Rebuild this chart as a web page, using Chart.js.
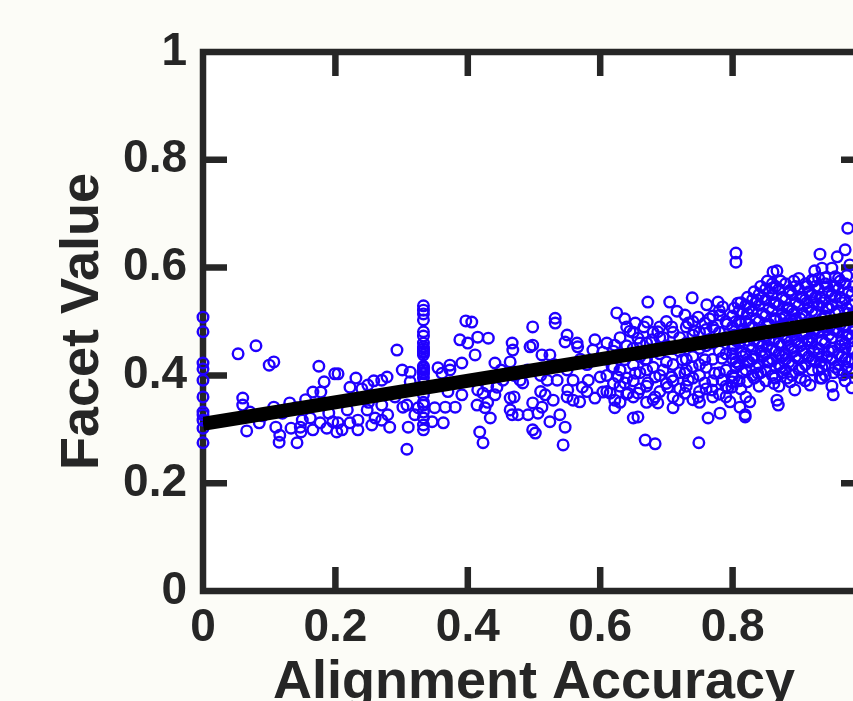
<!DOCTYPE html>
<html>
<head>
<meta charset="utf-8">
<script src="https://cdn.jsdelivr.net/npm/chart.js@4"></script>
<style>
  html, body { margin: 0; padding: 0; background: #fcfcf7; }
  #wrap { width: 853px; height: 701px; overflow: hidden; }
  canvas { display: block; }
</style>
</head>
<body>
<div id="wrap"><canvas id="scatterChart" width="900" height="730"></canvas></div>
<script>
// axis ticks
const xTicks = [0, 0.2, 0.4, 0.6, 0.8, 1];
const yTicks = [0, 0.2, 0.4, 0.6, 0.8, 1];

// fitted line, [accuracy, facet value] at the two ends
const fitLine = [[0, 0.31], [1, 0.51]];

// columns of samples sharing one accuracy value
const atZero = [0.508, 0.481, 0.423, 0.412, 0.391, 0.360, 0.332, 0.327, 0.317, 0.302, 0.275];
const atThird = [0.529, 0.521, 0.514, 0.503, 0.481, 0.473, 0.460, 0.453, 0.449, 0.445, 0.442, 0.438,
  0.417, 0.414, 0.410, 0.406, 0.403, 0.395, 0.385, 0.377, 0.364, 0.350, 0.345, 0.332, 0.321, 0.308, 0.299];

// scattered samples, [accuracy, facet value]
const lowPts = [
  [0.053,0.440],[0.080,0.455],[0.100,0.419],[0.107,0.425],[0.175,0.417],[0.183,0.388],[0.199,0.403],
  [0.060,0.358],[0.060,0.345],[0.071,0.332],[0.066,0.297],[0.085,0.312],[0.107,0.341],[0.110,0.304],
  [0.116,0.289],[0.115,0.276],[0.131,0.349],[0.133,0.302],[0.142,0.275],[0.147,0.304],[0.148,0.295],
  [0.166,0.369],[0.178,0.369],[0.166,0.299],[0.177,0.312],[0.187,0.302],[0.196,0.314],[0.202,0.295],
  [0.162,0.321],[0.150,0.317],[0.120,0.330],[0.140,0.340],[0.170,0.345],[0.190,0.330],[0.090,0.325],
  [0.155,0.355],[0.204,0.403],[0.231,0.395],[0.222,0.378],[0.240,0.375],[0.249,0.382],[0.258,0.390],
  [0.270,0.391],[0.278,0.397],[0.293,0.447],[0.301,0.410],[0.313,0.406],[0.313,0.388],[0.355,0.414],
  [0.361,0.404],[0.373,0.419],[0.373,0.410],[0.388,0.466],[0.391,0.423],[0.204,0.312],[0.210,0.299],
  [0.218,0.336],[0.222,0.312],[0.234,0.317],[0.234,0.299],[0.248,0.336],[0.255,0.308],[0.260,0.321],
  [0.270,0.317],[0.279,0.327],[0.282,0.304],[0.302,0.341],[0.308,0.345],[0.310,0.304],[0.308,0.263],
  [0.320,0.327],[0.325,0.340],[0.346,0.314],[0.350,0.340],[0.363,0.312],[0.366,0.341],[0.381,0.341],
  [0.391,0.364],[0.250,0.350],[0.290,0.360],[0.370,0.370],[0.350,0.380],[0.270,0.345]
];
const midPts = [
  [0.397,0.501],[0.400,0.460],[0.406,0.499],[0.415,0.471],[0.431,0.469],[0.411,0.438],[0.441,0.423],
  [0.464,0.425],[0.467,0.460],[0.468,0.447],[0.498,0.490],[0.494,0.453],[0.498,0.456],[0.512,0.438],
  [0.524,0.438],[0.532,0.506],[0.532,0.497],[0.550,0.475],[0.547,0.462],[0.565,0.460],[0.566,0.453],
  [0.589,0.447],[0.592,0.466],[0.604,0.443],[0.415,0.373],[0.423,0.367],[0.414,0.345],[0.426,0.340],
  [0.434,0.321],[0.418,0.295],[0.423,0.275],[0.441,0.364],[0.444,0.378],[0.464,0.358],[0.464,0.336],
  [0.467,0.327],[0.476,0.327],[0.483,0.386],[0.491,0.327],[0.498,0.349],[0.498,0.299],[0.502,0.293],
  [0.506,0.330],[0.512,0.341],[0.517,0.364],[0.520,0.391],[0.524,0.314],[0.529,0.354],[0.539,0.327],
  [0.547,0.304],[0.544,0.271],[0.551,0.373],[0.559,0.354],[0.569,0.351],[0.573,0.378],[0.582,0.391],
  [0.592,0.358],[0.600,0.397],[0.604,0.369],[0.479,0.391],[0.453,0.391],[0.535,0.391],[0.559,0.391],
  [0.430,0.350],[0.430,0.380],[0.470,0.360],[0.470,0.400],[0.510,0.370],[0.510,0.400],[0.550,0.360],
  [0.550,0.410],[0.580,0.370],[0.580,0.420],[0.450,0.410],[0.490,0.410],[0.530,0.420],[0.570,0.430]
];
const upperPts = [
  [0.805,0.627],[0.805,0.610],[0.672,0.536],[0.705,0.536],[0.739,0.544],[0.625,0.516],[0.637,0.505],
  [0.653,0.497],[0.671,0.499],[0.666,0.490],[0.716,0.519],[0.728,0.512],[0.761,0.531],[0.778,0.536],
  [0.785,0.527],[0.781,0.512],[0.748,0.508],[0.687,0.481],[0.708,0.490],[0.733,0.497],[0.758,0.497],
  [0.773,0.484],[0.622,0.456],[0.657,0.469],[0.678,0.466],[0.618,0.416],[0.627,0.397],[0.615,0.367],
  [0.622,0.354],[0.622,0.340],[0.637,0.386],[0.642,0.367],[0.650,0.321],[0.657,0.323],[0.657,0.367],
  [0.668,0.280],[0.683,0.273],[0.672,0.386],[0.683,0.360],[0.687,0.349],[0.695,0.410],[0.702,0.378],
  [0.708,0.397],[0.718,0.354],[0.728,0.367],[0.733,0.391],[0.739,0.416],[0.748,0.360],[0.749,0.275],
  [0.758,0.386],[0.763,0.321],[0.769,0.373],[0.781,0.330],[0.784,0.391],[0.796,0.351],[0.799,0.378],
  [0.724,0.429],[0.668,0.429],[0.637,0.429],[0.758,0.429],[0.784,0.432],[0.653,0.404],[0.683,0.397],
  [0.728,0.404],[0.773,0.404],[0.645,0.482],[0.695,0.470],[0.742,0.483],[0.765,0.505],[0.792,0.495]
];
const topPts = [
  [0.974,0.673],[0.932,0.625],[0.861,0.592],[0.867,0.594],[0.924,0.594],[0.935,0.599],[0.958,0.620],
  [0.970,0.633],[0.860,0.562],[0.887,0.558],[0.837,0.540],[0.808,0.534],[0.950,0.599],[0.955,0.583],
  [0.977,0.605],[0.920,0.577],[0.940,0.581],[0.811,0.341],[0.819,0.327],[0.819,0.323],[0.826,0.351],
  [0.867,0.354],[0.869,0.345],[0.822,0.388],[0.838,0.404],[0.864,0.395],[0.887,0.388],[0.894,0.373],
  [0.917,0.382],[0.935,0.395],[0.952,0.364],[0.967,0.401],[0.980,0.377],[0.793,0.377],[0.799,0.388]
];

// crowded stretches: [accuracy, facet values]
const midColumns = [
  [0.61,[0.37,0.40,0.43,0.46]], [0.63,[0.38,0.41,0.44,0.47,0.35]], [0.65,[0.36,0.39,0.42,0.45,0.48]],
  [0.67,[0.38,0.41,0.43,0.46,0.35]], [0.69,[0.37,0.40,0.44,0.47,0.49]], [0.71,[0.36,0.39,0.42,0.45,0.48,0.34]],
  [0.73,[0.38,0.41,0.43,0.46,0.49]], [0.75,[0.37,0.40,0.42,0.45,0.48,0.35]], [0.77,[0.36,0.39,0.43,0.46,0.49,0.51]],
  [0.79,[0.38,0.41,0.44,0.47,0.50,0.36]],
  [0.62,[0.385,0.415,0.445]], [0.64,[0.365,0.395,0.455,0.49]], [0.66,[0.375,0.405,0.435,0.46]],
  [0.68,[0.355,0.415,0.445,0.48]], [0.70,[0.385,0.425,0.455,0.50]], [0.72,[0.375,0.405,0.445,0.47]],
  [0.74,[0.355,0.395,0.435,0.475,0.50]], [0.76,[0.375,0.415,0.455,0.485]], [0.78,[0.365,0.405,0.445,0.48,0.52]]
];
const denseColumns = [
  [0.800,[0.40,0.43,0.45,0.49,0.51,0.44]], [0.805,[0.415,0.465,0.50,0.425]],
  [0.810,[0.42,0.46,0.50,0.52,0.39,0.47]], [0.815,[0.435,0.485,0.515,0.405]],
  [0.820,[0.41,0.44,0.48,0.53,0.50,0.36]], [0.825,[0.425,0.455,0.495,0.525]],
  [0.830,[0.43,0.45,0.49,0.52,0.54,0.40]], [0.835,[0.415,0.475,0.505,0.535]],
  [0.840,[0.42,0.46,0.50,0.53,0.38,0.55]], [0.845,[0.435,0.485,0.515,0.545,0.455]],
  [0.850,[0.41,0.44,0.47,0.51,0.54,0.56,0.39]], [0.855,[0.425,0.465,0.495,0.525,0.555]],
  [0.860,[0.43,0.45,0.48,0.52,0.55,0.40,0.57]], [0.865,[0.415,0.445,0.505,0.535,0.565]],
  [0.870,[0.42,0.46,0.49,0.53,0.56,0.44,0.38]], [0.875,[0.435,0.475,0.515,0.545,0.405]],
  [0.880,[0.41,0.44,0.47,0.51,0.54,0.57,0.43]], [0.885,[0.425,0.455,0.495,0.525,0.555]],
  [0.890,[0.42,0.45,0.50,0.52,0.55,0.48,0.40]], [0.895,[0.435,0.465,0.505,0.535,0.565]],
  [0.900,[0.43,0.46,0.49,0.53,0.56,0.58,0.41]], [0.905,[0.415,0.445,0.475,0.515,0.545]],
  [0.910,[0.42,0.44,0.48,0.51,0.54,0.57,0.39]], [0.915,[0.435,0.465,0.495,0.525,0.555]],
  [0.920,[0.43,0.46,0.50,0.52,0.55,0.47,0.41]], [0.925,[0.425,0.485,0.515,0.545,0.565]],
  [0.930,[0.41,0.45,0.48,0.53,0.56,0.58,0.44]], [0.935,[0.435,0.465,0.505,0.535,0.415]],
  [0.940,[0.42,0.46,0.49,0.51,0.54,0.57,0.40]], [0.945,[0.445,0.475,0.525,0.555]],
  [0.950,[0.43,0.45,0.50,0.53,0.55,0.47,0.38]], [0.955,[0.415,0.485,0.515,0.545,0.565]],
  [0.960,[0.42,0.44,0.48,0.52,0.56,0.58,0.41]], [0.965,[0.435,0.465,0.505,0.535]],
  [0.970,[0.43,0.46,0.49,0.54,0.57,0.45,0.39]], [0.975,[0.425,0.475,0.515,0.555]],
  [0.980,[0.41,0.45,0.50,0.53,0.55,0.47,0.43]], [0.990,[0.42,0.46,0.48,0.52,0.56,0.44]],
  [1.000,[0.43,0.47,0.50,0.54,0.57,0.40]],
  [0.8025,[0.455,0.475,0.525,0.395]], [0.8125,[0.445,0.495,0.535,0.375]], [0.8225,[0.465,0.515,0.545,0.425]],
  [0.8325,[0.435,0.465,0.555,0.395]], [0.8425,[0.445,0.475,0.565,0.405]], [0.8525,[0.455,0.495,0.575,0.425]],
  [0.8625,[0.465,0.505,0.535,0.385]], [0.8725,[0.455,0.505,0.575,0.415]], [0.8825,[0.465,0.495,0.525,0.395]],
  [0.8925,[0.445,0.475,0.515,0.575]], [0.9025,[0.455,0.505,0.545,0.395]], [0.9125,[0.465,0.495,0.535,0.565]],
  [0.9225,[0.445,0.485,0.535,0.575]], [0.9325,[0.425,0.495,0.545,0.395]], [0.9425,[0.435,0.485,0.525,0.565]],
  [0.9525,[0.445,0.485,0.565,0.405]], [0.9625,[0.455,0.495,0.545,0.575]], [0.9725,[0.415,0.475,0.525,0.585]],
  [0.9825,[0.445,0.485,0.515,0.565]], [0.9925,[0.435,0.475,0.505,0.545]]
];

const AXIS_COLOR = '#262626';
const FONT = "'Liberation Sans', Helvetica, Arial, sans-serif";
const TICK_LEN = 24;

const samples = [];
atZero.forEach(v => samples.push({ x: 0, y: v }));
atThird.forEach(v => samples.push({ x: 0.333, y: v }));
[lowPts, midPts, upperPts, topPts].forEach(g => g.forEach(p => samples.push({ x: p[0], y: p[1] })));
[midColumns, denseColumns].forEach(g => g.forEach(c => c[1].forEach(v => samples.push({ x: c[0], y: v }))));

const fmt = v => String(Number(v.toFixed(1)));

// white plot area, MATLAB-like box with inward ticks
const axesBox = {
  id: 'axesBox',
  beforeDraw(chart) {
    const { ctx, chartArea: a } = chart;
    ctx.save();
    ctx.fillStyle = '#fcfcf7';
    ctx.fillRect(0, 0, chart.width, chart.height);
    ctx.fillStyle = '#ffffff';
    ctx.fillRect(a.left, a.top, a.right - a.left, a.bottom - a.top);
    ctx.restore();
  },
  beforeDatasetsDraw(chart) {
    const { ctx, chartArea: a, scales: { x, y } } = chart;
    ctx.save();
    ctx.strokeStyle = AXIS_COLOR;
    ctx.lineWidth = 6.5;
    ctx.lineJoin = 'miter';
    ctx.strokeRect(a.left, a.top, a.right - a.left, a.bottom - a.top);
    ctx.beginPath();
    xTicks.slice(1, -1).forEach(v => {
      const px = x.getPixelForValue(v);
      ctx.moveTo(px, a.bottom); ctx.lineTo(px, a.bottom - TICK_LEN);
      ctx.moveTo(px, a.top); ctx.lineTo(px, a.top + TICK_LEN);
    });
    yTicks.slice(1, -1).forEach(v => {
      const py = y.getPixelForValue(v);
      ctx.moveTo(a.left, py); ctx.lineTo(a.left + TICK_LEN, py);
      ctx.moveTo(a.right, py); ctx.lineTo(a.right - TICK_LEN, py);
    });
    ctx.stroke();
    ctx.restore();
  }
};

new Chart(document.getElementById('scatterChart'), {
  type: 'scatter',
  data: {
    datasets: [{
      type: 'line',
      data: fitLine.map(p => ({ x: p[0], y: p[1] })),
      borderColor: '#000000',
      borderWidth: 14,
      borderCapStyle: 'butt',
      pointRadius: 0,
      fill: false,
      clip: 0,
      order: 0
    }, {
      data: samples,
      pointStyle: 'circle',
      pointRadius: 5.3,
      borderWidth: 2.4,
      borderColor: 'rgb(32,0,255)',
      backgroundColor: 'rgba(0,0,0,0)',
      clip: false,
      order: 1
    }]
  },
  options: {
    responsive: false,
    animation: false,
    events: [],
    layout: { padding: { top: 52, right: 35, left: 0, bottom: 0 } },
    plugins: { legend: { display: false }, tooltip: { enabled: false } },
    scales: {
      x: {
        type: 'linear',
        min: 0,
        max: 1,
        grid: { display: false, drawTicks: false },
        border: { display: false },
        afterBuildTicks: s => { s.ticks = xTicks.map(v => ({ value: v })); },
        ticks: {
          autoSkip: false,
          maxRotation: 0,
          padding: 10,
          color: AXIS_COLOR,
          font: { family: FONT, size: 46, weight: 'bold' },
          callback: v => fmt(v)
        },
        title: {
          display: true,
          text: 'Alignment Accuracy',
          color: AXIS_COLOR,
          font: { family: FONT, size: 54, weight: 'bold' },
          padding: { top: 0, bottom: 14 }
        },
        afterFit: s => {
          s.height = 139;
          s.paddingLeft = 0; s.paddingRight = 0; s.paddingTop = 0; s.paddingBottom = 0;
        }
      },
      y: {
        type: 'linear',
        min: 0,
        max: 1,
        grid: { display: false, drawTicks: false },
        border: { display: false },
        afterBuildTicks: s => { s.ticks = yTicks.map(v => ({ value: v })); },
        ticks: {
          padding: 16,
          color: AXIS_COLOR,
          font: { family: FONT, size: 46, weight: 'bold' },
          callback: v => fmt(v)
        },
        title: {
          display: true,
          text: 'Facet Value',
          color: AXIS_COLOR,
          font: { family: FONT, size: 54, weight: 'bold' },
          padding: { top: 51, bottom: 0 }
        },
        afterFit: s => {
          s.width = 203;
          s.paddingLeft = 0; s.paddingRight = 0; s.paddingTop = 0; s.paddingBottom = 0;
        }
      }
    }
  },
  plugins: [axesBox]
});
</script>
</body>
</html>
